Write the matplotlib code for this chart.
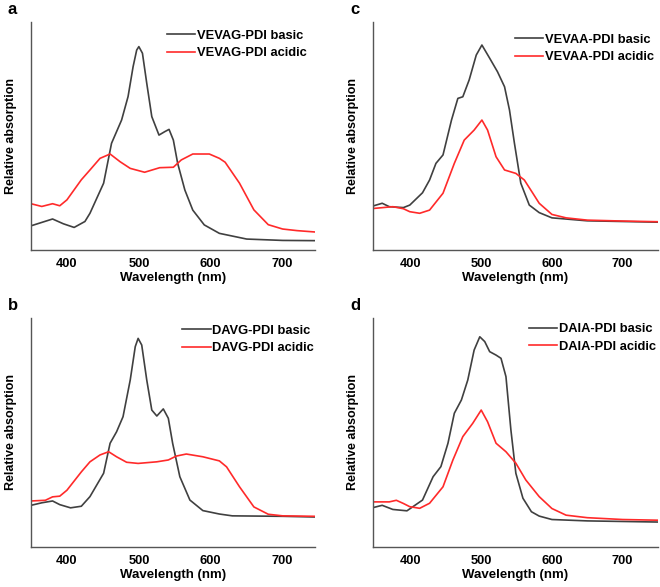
import matplotlib
matplotlib.use("Agg")
import matplotlib.pyplot as plt

plt.rcParams['font.family'] = ['Liberation Sans', 'DejaVu Sans']
plt.rcParams['font.weight'] = 'bold'

# ---- panel a : VEVAG-PDI ----
a_basic_x = [350, 380, 395, 410, 425, 432, 451, 462, 476, 485, 492, 497, 500, 505, 511, 518,
             528, 536, 542, 548, 554, 564, 575, 591, 612, 650, 700, 745]
a_basic_y = [0.106, 0.136, 0.115, 0.099, 0.125, 0.161, 0.293, 0.468, 0.57, 0.673, 0.804, 0.877,
             0.892, 0.863, 0.731, 0.585, 0.504, 0.519, 0.529, 0.482, 0.38, 0.263, 0.175, 0.11,
             0.073, 0.048, 0.042, 0.041]
a_acid_x = [350, 365, 380, 390, 400, 420, 432, 446, 460, 474, 488, 508, 529, 548, 559, 575,
            598, 612, 620, 640, 660, 680, 700, 720, 745]
a_acid_y = [0.203, 0.191, 0.203, 0.194, 0.22, 0.308, 0.351, 0.402, 0.421, 0.387, 0.358, 0.341,
            0.361, 0.363, 0.395, 0.421, 0.421, 0.402, 0.385, 0.293, 0.176, 0.111, 0.092, 0.085,
            0.079]

# ---- panel b : DAVG-PDI ----
b_basic_x = [350, 365, 380, 390, 405, 420, 432, 451, 460, 469, 478, 488, 495, 499, 504, 511,
             518, 525, 534, 541, 547, 557, 571, 589, 612, 630, 700, 745]
b_basic_y = [0.182, 0.193, 0.201, 0.185, 0.171, 0.178, 0.22, 0.322, 0.453, 0.503, 0.569, 0.729,
             0.875, 0.911, 0.882, 0.729, 0.598, 0.572, 0.603, 0.562, 0.453, 0.307, 0.205, 0.159,
             0.144, 0.136, 0.134, 0.131]
b_acid_x = [350, 370, 380, 390, 400, 420, 432, 446, 458, 469, 483, 499, 525, 541, 552, 566,
            589, 612, 622, 640, 660, 680, 700, 745]
b_acid_y = [0.201, 0.204, 0.219, 0.222, 0.248, 0.328, 0.372, 0.402, 0.416, 0.394, 0.37, 0.365,
            0.372, 0.38, 0.397, 0.406, 0.394, 0.376, 0.35, 0.263, 0.175, 0.143, 0.136, 0.134]

# ---- panel c : VEVAA-PDI ----
c_basic_x = [347, 360, 370, 390, 399, 417, 427, 436, 446, 458, 467, 474, 483, 493, 501, 512,
             523, 533, 540, 547, 556, 568, 582, 600, 650, 700, 750]
c_basic_y = [0.193, 0.205, 0.19, 0.186, 0.197, 0.251, 0.307, 0.38, 0.417, 0.57, 0.665, 0.672,
             0.746, 0.855, 0.899, 0.841, 0.782, 0.716, 0.614, 0.468, 0.293, 0.197, 0.164, 0.141,
             0.128, 0.125, 0.122]
c_acid_x = [347, 375, 390, 399, 413, 427, 446, 462, 476, 490, 501, 509, 521, 533, 549, 561,
            573, 582, 600, 620, 650, 700, 750]
c_acid_y = [0.182, 0.19, 0.181, 0.168, 0.161, 0.175, 0.249, 0.38, 0.482, 0.526, 0.57, 0.526,
            0.409, 0.351, 0.336, 0.307, 0.249, 0.205, 0.156, 0.141, 0.131, 0.127, 0.124]

# ---- panel d : DAIA-PDI ----
d_basic_x = [347, 360, 375, 395, 417, 432, 443, 453, 462, 472, 481, 490, 498, 505, 512, 521,
             528, 535, 542, 549, 559, 571, 582, 600, 650, 750]
d_basic_y = [0.172, 0.182, 0.164, 0.158, 0.205, 0.307, 0.351, 0.453, 0.584, 0.642, 0.729, 0.86,
             0.918, 0.897, 0.853, 0.838, 0.824, 0.744, 0.511, 0.322, 0.213, 0.154, 0.135, 0.12,
             0.114, 0.109]
d_acid_x = [347, 370, 380, 390, 399, 413, 427, 446, 460, 474, 488, 500, 509, 521, 535, 549,
            563, 582, 600, 620, 650, 700, 750]
d_acid_y = [0.197, 0.197, 0.204, 0.19, 0.176, 0.169, 0.191, 0.263, 0.38, 0.482, 0.54, 0.598,
            0.547, 0.453, 0.416, 0.366, 0.293, 0.22, 0.168, 0.139, 0.128, 0.12, 0.117]

xticks = [400, 500, 600, 700]
W, H = 660, 587

# letter, compound, data, axes box in pixels (left, top, right, bottom), legend anchor, xlim
panels = [
    ('a', 'VEVAG-PDI', a_basic_x, a_basic_y, a_acid_x, a_acid_y, (31, 22, 315, 250), (0.479, 0.966), (350, 745)),
    ('c', 'VEVAA-PDI', c_basic_x, c_basic_y, c_acid_x, c_acid_y, (373, 22, 658, 250), (0.498, 0.949), (347, 750)),
    ('b', 'DAVG-PDI', b_basic_x, b_basic_y, b_acid_x, b_acid_y, (31, 318, 315, 547), (0.532, 0.97), (350, 745)),
    ('d', 'DAIA-PDI', d_basic_x, d_basic_y, d_acid_x, d_acid_y, (373, 318, 658, 547), (0.547, 0.977), (347, 750)),
]

fig = plt.figure(figsize=(W / 100, H / 100), dpi=100)

for letter, name, bx, by, rx, ry, box, anchor, xlim in panels:
    l, t, r, b = box
    ax = fig.add_axes([l / W, 1 - b / H, (r - l) / W, (b - t) / H])
    ax.plot(bx, by, color='#404040', lw=1.2, label=name + ' basic')
    ax.plot(rx, ry, color='#ff2a2a', lw=1.2, label=name + ' acidic')
    ax.set_xlim(*xlim)
    ax.set_ylim(0, 1)
    ax.set_xticks(xticks)
    ax.set_yticks([])
    ax.tick_params(axis='x', length=0, pad=6, labelsize=9.3)
    for s in ['top', 'right']:
        ax.spines[s].set_visible(False)
    for s in ['left', 'bottom']:
        ax.spines[s].set_color('#555555')
        ax.spines[s].set_linewidth(1.0)
    ax.set_xlabel('Wavelength (nm)', fontsize=9.5, fontweight='bold', labelpad=1)
    ax.set_ylabel('Relative absorption', fontsize=9, fontweight='bold', labelpad=10)
    ax.legend(loc='upper left', bbox_to_anchor=anchor, frameon=False, fontsize=9.3,
              handlelength=2.2, handletextpad=0.15, labelspacing=0.42, borderpad=0,
              borderaxespad=0)
    fig.text((l - 23) / W, 1 - (t - 12) / H, letter, fontsize=12, fontweight='bold',
             ha='left', va='center')

fig.savefig('out.png', dpi=100)
